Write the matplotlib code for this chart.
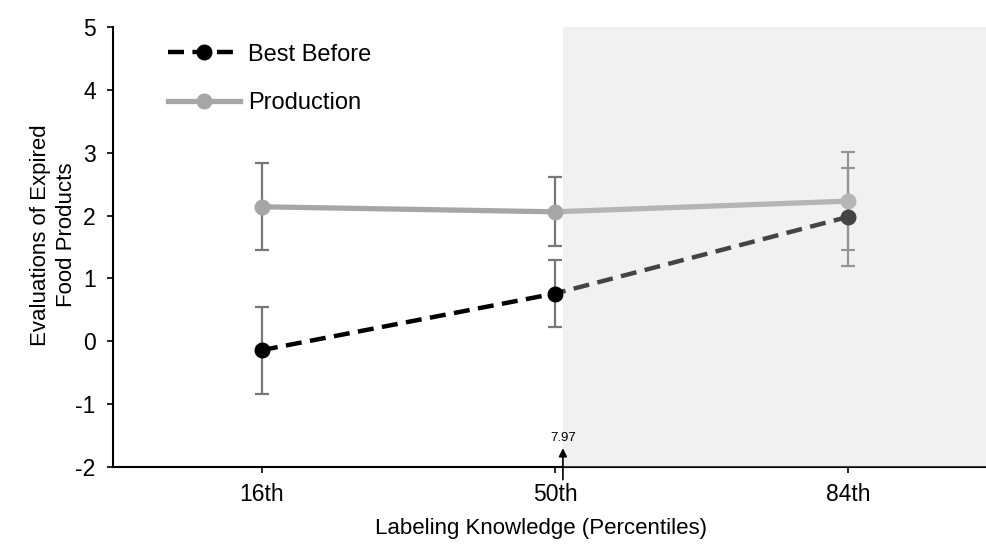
import matplotlib
matplotlib.use("Agg")
import matplotlib.pyplot as plt
from matplotlib.patches import Rectangle

plt.rcParams['font.family'] = ['Liberation Sans', 'DejaVu Sans']

categories = ["16th", "50th", "84th"]
best_before = [-0.14, 0.76, 1.98]
best_before_err = [0.69, 0.54, 0.78]
production = [2.14, 2.06, 2.23]
production_err = [0.69, 0.55, 0.78]
jn_value = 7.97
jn_pos = 1.027  # position of the 7.97 marker on the percentile axis

fig = plt.figure(figsize=(9.87, 5.45), dpi=100)
ax = fig.add_axes([0.1145, 0.143, 0.8855, 0.8075])

x = list(range(len(categories)))
xmin, xmax = -0.508, 2.474

ax.errorbar(x, production, yerr=production_err, fmt='none', ecolor='#777777',
            elinewidth=1.6, capsize=4.7, capthick=1.6, zorder=2)
ax.errorbar(x, best_before, yerr=best_before_err, fmt='none', ecolor='#777777',
            elinewidth=1.6, capsize=4.7, capthick=1.6, zorder=2)
ax.plot(x, production, color='#a6a6a6', lw=3.8, marker='o', ms=10.5,
        label='Production', zorder=3)
ax.plot(x, best_before, color='black', lw=3.2, ls=(0, (3.6, 1.9)), marker='o',
        ms=10.5, label='Best Before', zorder=4)

ax.set_xlim(xmin, xmax)
ax.set_ylim(-2, 5)
ax.add_patch(Rectangle((jn_pos, -2), xmax - jn_pos, 7, facecolor=(214/255,)*3,
                       alpha=0.32, edgecolor='none', zorder=5))

ax.annotate("", xy=(jn_pos, -1.7), xytext=(jn_pos, -2.2),
            arrowprops=dict(arrowstyle='-|>', color='black', lw=1.2,
                            mutation_scale=12, shrinkA=0, shrinkB=0),
            annotation_clip=False, zorder=6)
ax.text(jn_pos, -1.54, f"{jn_value:.2f}", ha='center', va='center', fontsize=9.5,
        zorder=6)

ax.set_xticks(x)
ax.set_xticklabels(categories)
ax.set_yticks(range(-2, 6))
ax.set_yticklabels([str(v) for v in range(-2, 6)])
ax.tick_params(axis='both', labelsize=16.5, direction='out', length=4.5, width=1.2)
ax.tick_params(axis='y', pad=8)
ax.tick_params(axis='x', pad=7)
for s in ['top', 'right']:
    ax.spines[s].set_visible(False)
for s in ['left', 'bottom']:
    ax.spines[s].set_linewidth(1.5)

ax.set_xlabel("Labeling Knowledge (Percentiles)", fontsize=16)
ax.xaxis.set_label_coords(0.49, -0.116)
ax.set_ylabel("Evaluations of Expired\nFood Products", fontsize=16, linespacing=1.35)
ax.yaxis.set_label_coords(-0.041, 0.527)

h, l = ax.get_legend_handles_labels()
ax.legend([h[1], h[0]], [l[1], l[0]], loc='center left', frameon=False,
          fontsize=17, handlelength=3.05, handletextpad=0.34, labelspacing=1.12,
          borderpad=0, borderaxespad=0, bbox_to_anchor=(0.063, 0.882))

fig.savefig("out.png", dpi=100)
